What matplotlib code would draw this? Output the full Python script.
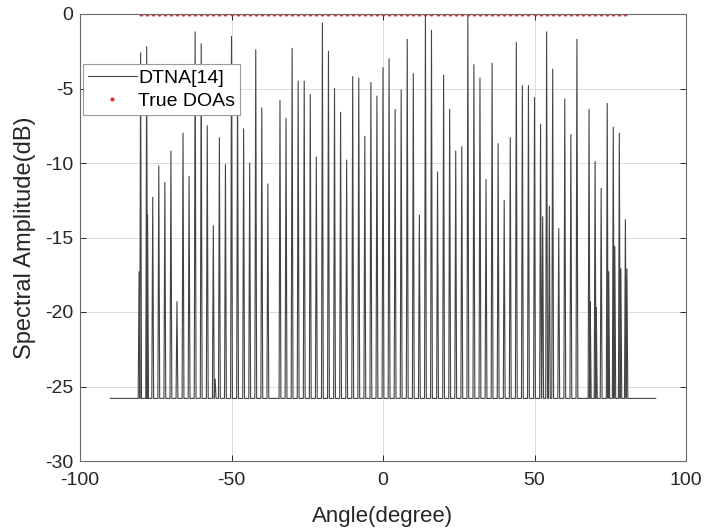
import numpy as np
import matplotlib.pyplot as plt

# true directions of arrival (deg), one source every 2 degrees
doa = np.arange(-80, 81, 2)

# peak level of the DTNA spectrum at each DOA (dB), nan = no visible peak
peak_db = [
    -2.6, -2.2, -12.3, -10.2, -11.3, -9.2, -19.3, -8.0, -10.9, -1.2,
    -2.0, -7.5, -14.2, -8.3, -10.1, -1.5, -4.6, -7.7, -10.0, -2.4,
    -6.3, -11.4, np.nan, -5.8, -7.0, -2.3, -4.5, -4.5, -5.4, -9.6,
    -0.6, -2.5, -5.0, -6.6, -9.8, -4.2, -4.3, -8.2, -4.6, -5.5,
    -3.6, -3.0, -6.4, -5.1, -1.7, -4.0, -13.5, 0.0, -1.1, -10.6,
    -4.1, -6.4, -9.2, -8.9, 0.0, -3.4, -4.3, -11.1, -3.3, -8.7,
    -12.5, -8.3, -1.9, -4.8, -4.8, -5.6, -7.4, -1.2, -3.7, -14.4,
    -5.7, -8.1, -1.7, np.nan, -6.4, -9.9, -11.7, -6.0, -7.6, -8.0,
    -13.8,
]

# smaller spurious spikes next to some of the peaks
extra_ang = [-80.5, -77.7, -55.4, 52.7, 54.9, 68.4, 70.4, 74.5, 76.5, 78.5, 80.5]
extra_db = [-17.3, -13.5, -24.5, -13.6, -12.9, -19.3, -19.7, -17.3, -15.6, -17.1, -17.1]

floor_db = -25.8
scan = (-90, 90)

# spectrum polyline: flat floor with a narrow spike at every peak
spikes = sorted([(a, h) for a, h in zip(doa, peak_db) if not np.isnan(h)]
                + list(zip(extra_ang, extra_db)))
half_w = 0.3
xs, ys = [scan[0]], [floor_db]
for a, h in spikes:
    xs += [a - half_w, a, a + half_w]
    ys += [floor_db, h, floor_db]
xs.append(scan[1])
ys.append(floor_db)

plt.rcParams['font.family'] = ['Liberation Sans', 'DejaVu Sans']
plt.rcParams['axes.unicode_minus'] = False

fig = plt.figure(figsize=(7.05, 5.29), dpi=100)
ax = fig.add_axes([80 / 705, 1 - 461 / 529, 606 / 705, 447 / 529])

ax.plot(xs, ys, color='#444444', lw=0.8, label='DTNA[14]')
ax.plot(doa, np.zeros(len(doa)), '.', color='#e03030', ms=4, label='True DOAs')

ax.set_xlim(-100, 100)
ax.set_ylim(-30, 0)
ax.set_xticks([-100, -50, 0, 50, 100])
ax.set_yticks([0, -5, -10, -15, -20, -25, -30])
ax.grid(True, color='#dcdcdc', lw=0.7)
ax.set_axisbelow(True)
ax.tick_params(direction='in', top=True, right=True, length=4, width=0.7,
               labelsize=14, colors='#262626')
ax.tick_params(axis='x', pad=8)
ax.tick_params(axis='y', pad=5)
for s in ax.spines.values():
    s.set_color('#6a6a6a')
    s.set_linewidth(0.8)

ax.set_xlabel('Angle(degree)', fontsize=16, color='#262626', labelpad=12)
ax.set_ylabel('Spectral Amplitude(dB)', fontsize=17, color='#262626', labelpad=6)

leg = ax.legend(loc='upper left', bbox_to_anchor=(0.005, 0.888), borderaxespad=0,
                fontsize=14, handlelength=2.5, handletextpad=0.1, borderpad=0.25,
                labelspacing=0.3, fancybox=False, framealpha=1, edgecolor='#9a9a9a')
leg.get_frame().set_linewidth(0.8)

fig.savefig('out.png', dpi=100)
